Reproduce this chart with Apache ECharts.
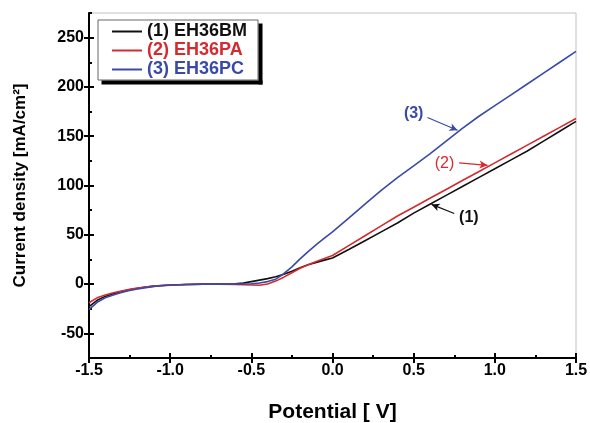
<!DOCTYPE html>
<html>
<head>
<meta charset="utf-8">
<script src="https://cdn.jsdelivr.net/npm/echarts@6/dist/echarts.min.js"></script>
<style>html,body{margin:0;padding:0;background:#fff;}#c{width:590px;height:423px;}</style>
</head>
<body>
<div id="c"></div>
<script>
// ---- data ----
const potential = [-1.5,-1.45,-1.4,-1.35,-1.3,-1.25,-1.2,-1.15,-1.1,-1.05,-1.0,-0.9,-0.8,-0.7,-0.6,-0.55,-0.5,-0.45,-0.4,-0.35,-0.3,-0.25,-0.2,-0.15,-0.1,-0.05,0,0.1,0.2,0.3,0.4,0.5,0.6,0.7,0.8,0.9,1.0,1.1,1.2,1.3,1.4,1.5];
const bmValues = [-23,-16.5,-12.5,-9.8,-7.6,-5.8,-4.3,-3.1,-2.1,-1.4,-0.9,-0.4,-0.1,0,0.3,1,2.5,4,5.5,7.5,10,13,16.5,19.5,22,24.3,26.5,35,44,53,62,72,81,90,99,108,117,126,135,145,155,165];
const paValues = [-19,-14,-11,-8.8,-7,-5.4,-4,-2.9,-2,-1.4,-0.9,-0.4,-0.2,-0.1,-0.3,-0.7,-1,-1.2,0,3,7,11.5,16,19.5,23,26,29,39,49,59,69,78,87,96,105,114,123,132,141,150,159,168];
const pcValues = [-26,-18.5,-14,-11,-8.5,-6.5,-5,-3.6,-2.5,-1.7,-1.2,-0.5,-0.2,-0.1,0,0.1,0.3,1,2.5,5,10.5,17.5,25.5,33,40,46.5,53,67,81,95,108,120,132,145,158,170,181,192,203,214,225,236];
const seriesNames = ['(1) EH36BM','(2) EH36PA','(3) EH36PC'];
const yMajorTicks = [-50,0,50,100,150,200,250];
const yMinorTicks = [-75,-25,25,75,125,175,225,275];
const annotationLabels = ['(3)','(2)','(1)'];

// ---- styling / annotation layout ----
const colors = ['#111111','#d42a30','#3a4aa6'];
const annotLayout = [
  {series:2, label:[0.50,173], from:[0.585,169], to:[0.77,156], bold:true},
  {series:1, label:[0.69,122], from:[0.78,123], to:[0.955,120.5], bold:false},
  {series:0, label:[0.84,67.5], from:[0.75,71.6], to:[0.61,80.8], bold:true}
];
const FONT = 'Liberation Sans, Arial, sans-serif';

function pairs(ys){ return potential.map((x,i)=>[x,ys[i]]); }
const vals = [bmValues, paValues, pcValues];

const series = vals.map((v,i)=>{
  const s = {
    name: seriesNames[i], type:'line', data: pairs(v), smooth:false, showSymbol:false,
    lineStyle:{color:colors[i], width:1.6, join:'round'}, itemStyle:{color:colors[i]}, z:3
  };
  const a = annotLayout.filter(o=>o.series===i);
  if (a.length){
    s.markLine = {
      silent:true, symbol:['none','arrow'], symbolSize:[6,8], animation:false,
      label:{show:false},
      lineStyle:{color:colors[i], width:1.2, type:'solid'},
      data: a.map(o=>[{coord:o.from},{coord:o.to}])
    };
    s.markPoint = {
      silent:true, symbol:'circle', symbolSize:0, animation:false,
      data: a.map(o=>({coord:o.label, label:{show:true, formatter:annotationLabels[annotLayout.indexOf(o)],
        color:colors[i], fontSize:16, fontWeight:o.bold?'bold':'normal', fontFamily:FONT, position:'inside'}}))
    };
  }
  return s;
});

const axisLabelStyle = {color:'#000', fontSize:16, fontWeight:'bold', fontFamily:FONT};

const option = {
  animation:false,
  backgroundColor:'#fff',
  grid:{left:89, right:14, top:13, bottom:65, show:true, borderColor:'#c0c0c0', borderWidth:1, outerBoundsMode:'none', containLabel:false},
  legend:{
    left:98, top:20, orient:'vertical', itemGap:0, itemWidth:30, itemHeight:2, selectedMode:false,
    padding:[2,11,1,14], backgroundColor:'#fff', borderColor:'#666', borderWidth:1, z:6,
    data: seriesNames.map((n,i)=>({name:n, icon:'rect',
      textStyle:{color:colors[i], fontSize:18, lineHeight:19, fontWeight:'bold', fontFamily:FONT}}))
  },
  xAxis:[
    {type:'value', min:-1.5, max:1.5, interval:0.5, position:'bottom',
     name:'Potential [ V]', nameLocation:'middle', nameGap:44,
     nameTextStyle:{color:'#000', fontSize:21, fontWeight:'bold', fontFamily:FONT},
     axisLine:{show:true, onZero:false, lineStyle:{color:'#000', width:2}},
     axisTick:{show:true, inside:false, length:5, lineStyle:{color:'#000', width:2}},
     axisLabel:{...axisLabelStyle, margin:5, formatter:v=>v.toFixed(1)},
     splitLine:{show:false}},
    {type:'value', min:-1.5, max:1.5, interval:0.5, position:'bottom',
     axisLine:{show:false, onZero:false},
     axisTick:{show:true, inside:true, length:5, lineStyle:{color:'#000', width:2}},
     minorTick:{show:true, splitNumber:2, length:3, lineStyle:{color:'#000', width:2}},
     axisLabel:{show:false}, splitLine:{show:false}}
  ],
  yAxis:[
    {type:'value', min:-75, max:275, position:'left',
     name:'Current density [mA/cm\u00b2]', nameLocation:'middle', nameGap:60,
     nameTextStyle:{color:'#000', fontSize:17, fontWeight:'bold', fontFamily:FONT},
     axisLine:{show:true, onZero:false, lineStyle:{color:'#000', width:2}},
     axisTick:{show:true, inside:false, length:5, customValues:yMajorTicks, lineStyle:{color:'#000', width:2}},
     axisLabel:{...axisLabelStyle, margin:5, customValues:yMajorTicks},
     splitLine:{show:false}},
    {type:'value', min:-75, max:275, position:'left',
     axisLine:{show:false, onZero:false},
     axisTick:{show:true, inside:true, length:5, customValues:yMajorTicks, lineStyle:{color:'#000', width:2}},
     axisLabel:{show:false}, splitLine:{show:false}},
    {type:'value', min:-75, max:275, position:'left',
     axisLine:{show:false, onZero:false},
     axisTick:{show:true, inside:true, length:3, customValues:yMinorTicks, lineStyle:{color:'#000', width:2}},
     axisLabel:{show:false}, splitLine:{show:false}}
  ],
  series: series
};
const chart = echarts.init(document.getElementById('c'), null, {renderer:'canvas'});
chart.setOption(option);

// legend drop shadow: two black strips along the right and bottom edges of the rendered legend box
function addLegendShadow(){
  let rect = null;
  chart.getZr().storage.getDisplayList(true).forEach(el=>{
    if (!rect && el.type === 'rect' && el.style && el.style.fill === '#fff' && el.style.stroke === '#666') {
      const b = el.getBoundingRect().clone();
      const m = el.getComputedTransform && el.getComputedTransform();
      if (m) b.applyTransform(m);
      rect = b;
    }
  });
  if (!rect) rect = {x:98, y:20, width:160, height:60};
  const off = 4;
  chart.setOption({graphic:{elements:[
    {type:'rect', id:'shR', z:100, silent:true, shape:{x:rect.x+rect.width, y:rect.y+off, width:off, height:rect.height}, style:{fill:'#000'}},
    {type:'rect', id:'shB', z:100, silent:true, shape:{x:rect.x+off, y:rect.y+rect.height, width:rect.width, height:off}, style:{fill:'#000'}}
  ]}});
}
addLegendShadow();
</script>
</body>
</html>
